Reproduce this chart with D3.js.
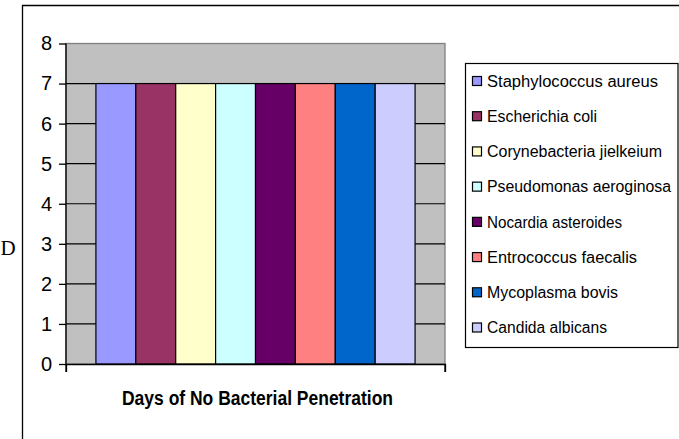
<!DOCTYPE html>
<html>
<head>
<meta charset="utf-8">
<script src="https://cdn.jsdelivr.net/npm/d3@7"></script>
<style>
  html, body { margin: 0; padding: 0; background: #fff; }
  svg { display: block; }
  text { font-family: "Liberation Sans", Arial, sans-serif; fill: #000; }
</style>
</head>
<body>
<svg id="chart" width="679" height="439"></svg>
<script>
const categories = ["Days of No Bacterial Penetration"];
const seriesNames = [
  "Staphylococcus aureus",
  "Escherichia coli",
  "Corynebacteria jielkeium",
  "Pseudomonas aeroginosa",
  "Nocardia asteroides",
  "Entrococcus faecalis",
  "Mycoplasma bovis",
  "Candida albicans"
];
const seriesValues = [7, 7, 7, 7, 7, 7, 7, 7];
const seriesColors = ["#9999FF", "#993366", "#FFFFCC", "#CCFFFF", "#660066", "#FF8080", "#0066CC", "#CCCCFF"];
const yTicks = [0, 1, 2, 3, 4, 5, 6, 7, 8];

// layout only: rendered widths of legend labels (px)
const legendLabelWidths = [171, 110, 175, 184, 135, 150, 131, 120];

const svg = d3.select("#chart");

// outer frame
svg.append("path")
  .attr("d", "M22.5,439 L22.5,5.5 L679,5.5")
  .attr("fill", "none").attr("stroke", "#000").attr("stroke-width", 1.3);

// axis title letter at left
svg.append("text")
  .attr("x", 0.5).attr("y", 255)
  .attr("text-anchor", "start")
  .style("font-family", "'Liberation Serif', 'Times New Roman', serif")
  .style("font-size", "21px")
  .text("D");

const plot = { left: 66, right: 445, top: 43.5, bottom: 364 };

const x0 = d3.scaleBand().domain(categories).range([plot.left, plot.right]).padding(0);
const x1 = d3.scaleBand().domain(seriesNames).range([0, x0.bandwidth()])
  .paddingInner(0).paddingOuter(0.75);
const y = d3.scaleLinear().domain([0, 8]).range([plot.bottom, plot.top]);

// plot area background
svg.append("rect")
  .attr("x", plot.left).attr("y", plot.top)
  .attr("width", plot.right - plot.left).attr("height", plot.bottom - plot.top)
  .attr("fill", "#C0C0C0").attr("stroke", "#808080").attr("stroke-width", 1.3);

// gridlines
svg.append("g").selectAll("line").data(yTicks.filter(d => d > 0 && d < 8)).join("line")
  .attr("x1", plot.left).attr("x2", plot.right)
  .attr("y1", d => y(d)).attr("y2", d => y(d))
  .attr("stroke", "#000").attr("stroke-width", 1.2);

// bars
const groups = svg.append("g").selectAll("g").data(categories).join("g")
  .attr("transform", d => `translate(${x0(d)},0)`);
groups.selectAll("rect")
  .data(seriesNames.map((n, i) => ({ name: n, value: seriesValues[i], color: seriesColors[i] })))
  .join("rect")
  .attr("x", d => x1(d.name))
  .attr("y", d => y(d.value))
  .attr("width", x1.bandwidth())
  .attr("height", d => y(0) - y(d.value))
  .attr("fill", d => d.color)
  .attr("stroke", "#000").attr("stroke-width", 1.2);

// y axis
const yAxis = d3.axisLeft(y).tickValues(yTicks).tickSize(7).tickPadding(7).tickFormat(d3.format("d"));
const yg = svg.append("g").attr("transform", `translate(${plot.left},0)`).call(yAxis);
yg.select(".domain").attr("stroke", "#000").attr("stroke-width", 1.3).attr("d", `M0,${plot.top}V${plot.bottom}`);
yg.selectAll(".tick line").attr("stroke", "#000").attr("stroke-width", 1.3);
yg.selectAll(".tick text")
  .style("font-family", "'Liberation Sans', Arial, sans-serif")
  .style("font-size", "20px").attr("fill", "#000");

// x axis
const xAxis = d3.axisBottom(x0).tickValues([]).tickSizeOuter(8);
const xg = svg.append("g").attr("transform", `translate(0,${plot.bottom})`).call(xAxis);
xg.select(".domain").attr("stroke", "#000").attr("stroke-width", 1.3);
xg.append("g").selectAll("line").data([plot.left, plot.right]).join("line")
  .attr("x1", d => d).attr("x2", d => d).attr("y1", 0).attr("y2", 8)
  .attr("stroke", "#000").attr("stroke-width", 1.3);

// category label
svg.append("text")
  .attr("x", 257.5).attr("y", 405)
  .attr("text-anchor", "middle")
  .attr("textLength", 271).attr("lengthAdjust", "spacingAndGlyphs")
  .style("font-size", "20px").style("font-weight", "bold")
  .text(categories[0]);

// legend
const legend = svg.append("g");
legend.append("rect")
  .attr("x", 465.5).attr("y", 63.5).attr("width", 212.5).attr("height", 284)
  .attr("fill", "#fff").attr("stroke", "#000").attr("stroke-width", 1.2);
const ly = d3.scalePoint().domain(seriesNames).range([81, 327.5]);
const items = legend.selectAll("g.item").data(seriesNames).join("g").attr("class", "item")
  .attr("transform", d => `translate(0,${ly(d)})`);
items.append("rect")
  .attr("x", 472.5).attr("y", -4.5).attr("width", 9).attr("height", 9)
  .attr("fill", (d, i) => seriesColors[i]).attr("stroke", "#000").attr("stroke-width", 1.2);
items.append("text")
  .attr("x", 487).attr("y", 0).attr("dy", "0.36em")
  .attr("textLength", (d, i) => legendLabelWidths[i])
  .attr("lengthAdjust", "spacingAndGlyphs")
  .style("font-size", "16px")
  .text(d => d);
</script>
</body>
</html>
